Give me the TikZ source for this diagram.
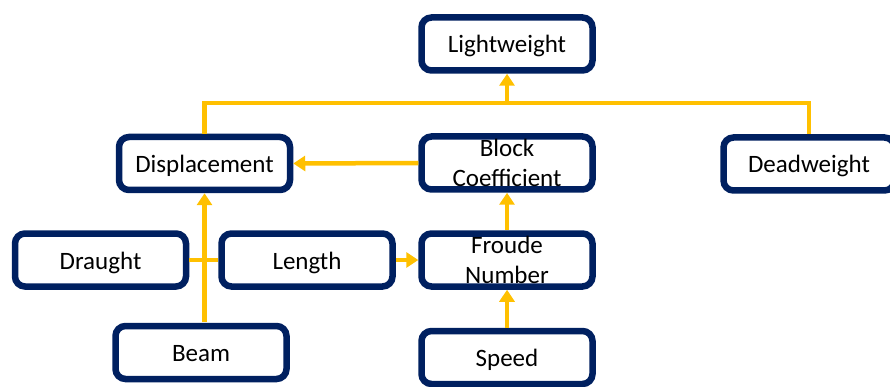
\documentclass[tikz,border=0pt]{standalone}
\usepackage{fontspec}
\setmainfont{Carlito}
\usetikzlibrary{arrows.meta}
\definecolor{navy}{HTML}{002060}
\definecolor{gold}{HTML}{FFC000}
\begin{document}
\begin{tikzpicture}[x=1pt,y=-1pt,
  box/.style={draw=navy,line width=6.5pt,rounded corners=10pt,fill=white,
    minimum width=171pt,minimum height=53pt,inner sep=0pt,align=center,
    font=\fontsize{25}{30}\selectfont},
  one/.style={box,text height=21pt,text depth=3pt},
  link/.style={draw=gold,line width=4.5pt},
  arr/.style={link,-{Triangle[width=15pt,length=12pt]}}]
\useasboundingbox (0,0) rectangle (890,387);
\node[one] (light) at (507,44) {Lightweight};
\node[one] (disp) at (204.5,163.5) {Displacement};
\node[box] (block) at (507,163) {Block\\Coefficient};
\node[one] (dead) at (809,164) {Deadweight};
\node[one] (draught) at (100.5,260) {Draught};
\node[one] (length) at (307,260) {Length};
\node[box] (froude) at (507,260) {Froude\\Number};
\node[one] (beam) at (201,352.5) {Beam};
\node[one] (speed) at (507,357.5) {Speed};
\coordinate (j1) at (204.5,103);
\coordinate (j2) at (507,103);
\coordinate (j3) at (809,103);
\coordinate (bt) at (204.5,322);
\draw[link] (disp.north) -- (j1) -- (j3) -- (dead.north);
\draw[arr] (j2) -- (light.south);
\draw[arr] (block.west) -- (disp.east);
\draw[arr] (froude.north) -- (block.south);
\draw[arr] (speed.north) -- (froude.south);
\draw[arr] (length.east) -- (froude.west);
\draw[link] (draught.east) -- (length.west);
\draw[arr] (bt) -- (disp.south);
\end{tikzpicture}
\end{document}
